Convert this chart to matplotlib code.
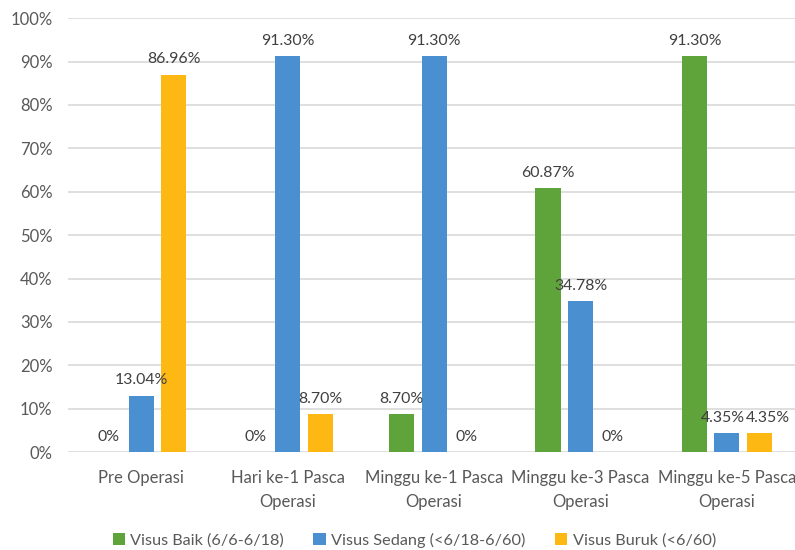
import numpy as np
import matplotlib
matplotlib.use("Agg")
import matplotlib.pyplot as plt

categories = ["Pre Operasi", "Hari ke-1 Pasca\nOperasi", "Minggu ke-1 Pasca\nOperasi",
              "Minggu ke-3 Pasca\nOperasi", "Minggu ke-5 Pasca\nOperasi"]
series_names = ["Visus Baik (6/6-6/18)", "Visus Sedang (<6/18-6/60)", "Visus Buruk (<6/60)"]
baik = [0.0, 0.0, 8.70, 60.87, 91.30]
sedang = [13.04, 91.30, 91.30, 34.78, 4.35]
buruk = [86.96, 8.70, 0.0, 0.0, 4.35]
colors = ["#5fa33b", "#4a8fd0", "#fdb813"]

# small sideways nudges (points) for labels that would collide: (series, category) -> dx
nudges = {(1, 4): -3, (2, 4): 6}

plt.rcParams["font.family"] = ["Lato", "DejaVu Sans"]
fs = 12

fig = plt.figure(figsize=(7.95, 5.5), dpi=100)
ax = fig.add_axes([0.0855, 0.178, 0.921, 0.789])

x = np.arange(len(categories))
step = 0.222
width = 0.171
for i, (vals, name, col) in enumerate(zip([baik, sedang, buruk], series_names, colors)):
    pos = x + (i - 1) * step
    ax.bar(pos, vals, width=width, color=col, label=name, zorder=3)
    for j, (px, v) in enumerate(zip(pos, vals)):
        txt = "0%" if v == 0 else f"{v:.2f}%"
        ax.annotate(txt, (px, v), xytext=(nudges.get((i, j), 0), 6),
                    textcoords="offset points", ha="center", va="bottom",
                    fontsize=fs - 0.6, color="#404040", zorder=4)

ax.set_xlim(-0.5, len(categories) - 0.5)
ax.set_ylim(0, 100)
ax.set_yticks(np.arange(0, 101, 10))
ax.set_yticklabels([f"{t}%" for t in range(0, 101, 10)])
ax.set_xticks(x)
ax.set_xticklabels(categories, linespacing=1.6)
ax.tick_params(axis="both", length=0, labelsize=fs, labelcolor="#595959")
ax.tick_params(axis="y", pad=11)
ax.tick_params(axis="x", pad=13)
ax.grid(axis="y", color="#d9d9d9", linewidth=1.2, zorder=0)
for s in ax.spines.values():
    s.set_visible(False)

leg = ax.legend(loc="center", bbox_to_anchor=(0.473, -0.203), ncol=3, frameon=False,
                fontsize=fs - 0.3, handlelength=0.75, handleheight=0.75, handletextpad=0.35,
                columnspacing=1.8)
for t in leg.get_texts():
    t.set_color("#595959")

fig.savefig("out.png", dpi=100)
